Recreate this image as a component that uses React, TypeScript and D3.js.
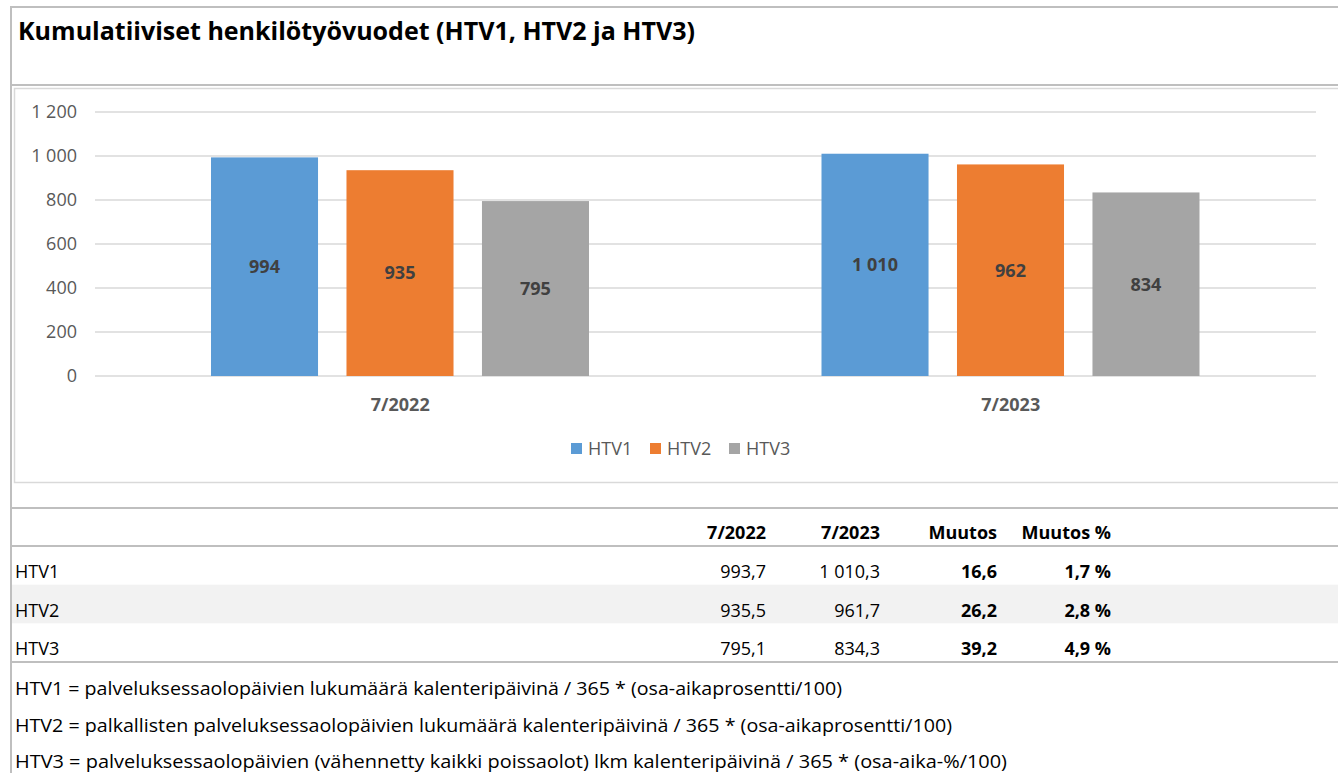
import React, { useEffect, useRef } from 'react';
import * as d3 from 'd3';

const title = 'Kumulatiiviset henkilötyövuodet (HTV1, HTV2 ja HTV3)';
const categories = ['7/2022', '7/2023'];
const seriesNames = ['HTV1', 'HTV2', 'HTV3'];
const htv2022 = [993.7, 935.46, 795.1];
const htv2023 = [1010.3, 961.7, 834.3];
const change = [16.6, 26.2, 39.2];
const changePct = [1.7, 2.8, 4.9];
const yTicks = [0, 200, 400, 600, 800, 1000, 1200];
const tableHeaders = ['7/2022', '7/2023', 'Muutos', 'Muutos %'];
const footnotes = [
  'HTV1 = palveluksessaolopäivien lukumäärä kalenteripäivinä / 365 * (osa-aikaprosentti/100)',
  'HTV2 = palkallisten palveluksessaolopäivien lukumäärä kalenteripäivinä / 365 * (osa-aikaprosentti/100)',
  'HTV3 = palveluksessaolopäivien (vähennetty kaikki poissaolot) lkm kalenteripäivinä / 365 * (osa-aika-%/100)',
];
const colors = ['#5b9bd5', '#ed7d31', '#a5a5a5'];

const W = 1338;
const H = 773;
const FONT = '"Open Sans", "Noto Sans", sans-serif';

const fi = d3.formatLocale({ decimal: ',', thousands: '\u00a0', grouping: [3], currency: ['', ' €'] });
const fmtInt = fi.format(',.0f');
const fmt1 = fi.format(',.1f');

const App: React.FC = () => {
  const ref = useRef<SVGSVGElement>(null);

  useEffect(() => {
    const svg = d3.select(ref.current);
    svg.selectAll('*').remove();

    // frame
    const grey = '#bfbfbf';
    svg.append('line').attr('x1', 10).attr('x2', W).attr('y1', 7).attr('y2', 7).attr('stroke', grey).attr('stroke-width', 2);
    svg.append('line').attr('x1', 11).attr('x2', 11).attr('y1', 6).attr('y2', H).attr('stroke', grey).attr('stroke-width', 2);
    svg.append('line').attr('x1', 10).attr('x2', W).attr('y1', 85).attr('y2', 85).attr('stroke', grey).attr('stroke-width', 2);

    svg.append('text')
      .attr('x', 18).attr('y', 40)
      .attr('font-family', FONT).attr('font-size', 25).attr('font-weight', 700)
      .attr('fill', '#000')
      .attr('textLength', 677).attr('lengthAdjust', 'spacingAndGlyphs')
      .text(title);

    // chart box
    svg.append('rect')
      .attr('x', 14.5).attr('y', 88.5).attr('width', W).attr('height', 394)
      .attr('fill', '#fff').attr('stroke', '#d9d9d9').attr('stroke-width', 1.5);

    const y = d3.scaleLinear().domain([0, 1200]).range([376, 112]);
    const x0 = d3.scaleBand().domain(categories).range([95, 1316]);
    const x1 = d3.scaleBand().domain(seriesNames).range([116, 494]).paddingInner(0.21);

    svg.append('g').selectAll('line')
      .data(yTicks)
      .join('line')
      .attr('x1', 95).attr('x2', 1316)
      .attr('y1', d => y(d)).attr('y2', d => y(d))
      .attr('stroke', '#d9d9d9').attr('stroke-width', 1.5);

    const yAxis = svg.append('g')
      .attr('transform', 'translate(77,0)')
      .call(d3.axisLeft(y).tickValues(yTicks).tickSize(0).tickPadding(0).tickFormat(d => fmtInt(d as number)));
    yAxis.select('.domain').remove();
    yAxis.selectAll('text')
      .attr('font-family', FONT).attr('font-size', 18).attr('fill', '#595959');

    const valuesByCat = [htv2022, htv2023];
    const groups = svg.append('g').selectAll('g')
      .data(categories)
      .join('g')
      .attr('transform', d => `translate(${x0(d)},0)`);

    groups.each(function (cat, ci) {
      const g = d3.select(this);
      const vals = valuesByCat[ci].map((v, i) => ({ name: seriesNames[i], v, c: colors[i] }));
      g.selectAll('rect')
        .data(vals)
        .join('rect')
        .attr('x', d => x1(d.name)!)
        .attr('y', d => y(d.v))
        .attr('width', x1.bandwidth())
        .attr('height', d => y(0) - y(d.v))
        .attr('fill', d => d.c);
      g.selectAll('text.lbl')
        .data(vals)
        .join('text')
        .attr('class', 'lbl')
        .attr('x', d => x1(d.name)! + x1.bandwidth() / 2)
        .attr('y', d => (y(d.v) + y(0)) / 2)
        .attr('dy', '0.35em')
        .attr('text-anchor', 'middle')
        .attr('font-family', FONT).attr('font-size', 18).attr('font-weight', 700)
        .attr('fill', '#404040')
        .text(d => fmtInt(d.v));
    });

    svg.append('g').selectAll('text')
      .data(categories)
      .join('text')
      .attr('x', d => x0(d)! + x0.bandwidth() / 2)
      .attr('y', 405)
      .attr('dy', '0.35em')
      .attr('text-anchor', 'middle')
      .attr('font-family', FONT).attr('font-size', 18).attr('font-weight', 700)
      .attr('fill', '#595959')
      .text(d => d);

    // legend
    const legend = svg.append('g').selectAll('g')
      .data(seriesNames)
      .join('g')
      .attr('transform', (d, i) => `translate(${571 + i * 79},443)`);
    legend.append('rect').attr('width', 11).attr('height', 11).attr('fill', (d, i) => colors[i]);
    legend.append('text')
      .attr('x', 17).attr('y', 6).attr('dy', '0.35em')
      .attr('font-family', FONT).attr('font-size', 18).attr('fill', '#595959')
      .text(d => d);

    // table
    const rowY = d3.scaleBand().domain(seriesNames).range([546, 662]);
    const colX = [766, 880, 997, 1111];

    svg.append('rect')
      .attr('x', 12).attr('y', rowY('HTV2')!).attr('width', W).attr('height', rowY.bandwidth())
      .attr('fill', '#f2f2f2');

    [508, 546, 662].forEach(ly => {
      svg.append('line').attr('x1', 12).attr('x2', W).attr('y1', ly).attr('y2', ly)
        .attr('stroke', grey).attr('stroke-width', 2);
    });

    svg.append('g').selectAll('text')
      .data(tableHeaders)
      .join('text')
      .attr('x', (d, i) => colX[i]).attr('y', 539)
      .attr('text-anchor', 'end')
      .attr('font-family', FONT).attr('font-size', 18).attr('font-weight', 700)
      .attr('fill', '#000')
      .text(d => d);

    seriesNames.forEach((name, i) => {
      const by = rowY(name)! + 32;
      const cells = [fmt1(htv2022[i]), fmt1(htv2023[i]), fmt1(change[i]), fmt1(changePct[i]) + ' %'];
      svg.append('text')
        .attr('x', 15).attr('y', by)
        .attr('font-family', FONT).attr('font-size', 18).attr('fill', '#000')
        .text(name);
      cells.forEach((c, ci) => {
        svg.append('text')
          .attr('x', colX[ci]).attr('y', by)
          .attr('text-anchor', 'end')
          .attr('font-family', FONT).attr('font-size', 18)
          .attr('font-weight', ci >= 2 ? 700 : 400)
          .attr('fill', '#000')
          .text(c);
      });
    });

    const fnWidths = [827, 937, 992];
    svg.append('g').selectAll('text')
      .data(footnotes)
      .join('text')
      .attr('x', 15)
      .attr('y', (d, i) => 695 + i * 36.5)
      .attr('font-family', FONT).attr('font-size', 18.5).attr('fill', '#000')
      .attr('textLength', (d, i) => fnWidths[i]).attr('lengthAdjust', 'spacingAndGlyphs')
      .text(d => d);
  }, []);

  return (
    <svg
      ref={ref}
      width={W}
      height={H}
      style={{ position: 'absolute', left: 0, top: 0, background: '#fff' }}
    />
  );
};

export default App;
